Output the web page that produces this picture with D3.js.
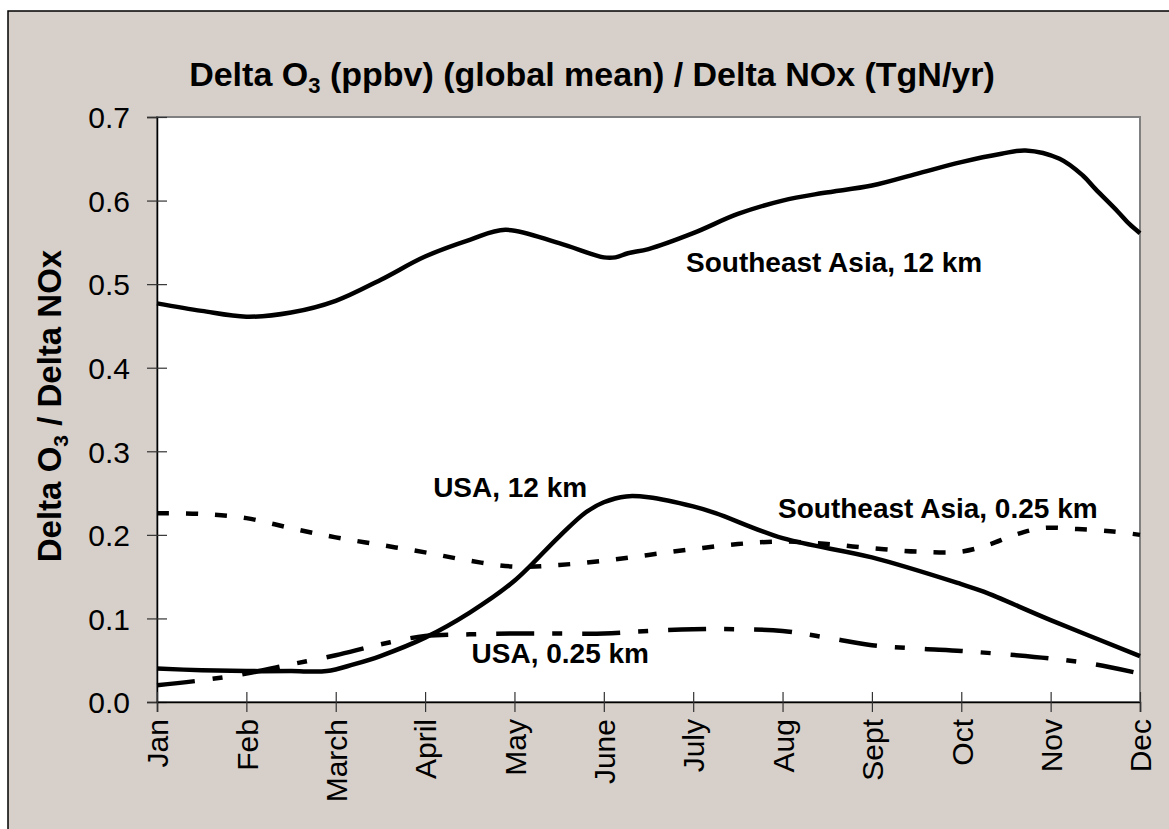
<!DOCTYPE html>
<html>
<head>
<meta charset="utf-8">
<script src="https://cdn.jsdelivr.net/npm/d3@7"></script>
<style>
  body { margin: 0; background: #fff; }
  text { font-family: "Liberation Sans", Arial, sans-serif; fill: #000; }
</style>
</head>
<body>
<div id="chart"></div>
<script>
var width = 1169, height = 829;

// month tick labels (x positions are month index 0..11)
var months = ['Jan', 'Feb', 'March', 'April', 'May', 'June', 'July', 'Aug', 'Sept', 'Oct', 'Nov', 'Dec'];
var yTicks = [0, 0.1, 0.2, 0.3, 0.4, 0.5, 0.6, 0.7];

// [month index, delta O3 / delta NOx]
var seAsia12 = [[0, 0.477], [0.5, 0.468], [1, 0.461], [1.5, 0.466], [2, 0.480], [2.5, 0.505],
  [3, 0.533], [3.5, 0.553], [3.9, 0.565], [4.5, 0.549], [5, 0.532], [5.13, 0.532], [5.27, 0.537],
  [5.5, 0.542], [6, 0.561], [6.5, 0.584], [7, 0.600], [7.45, 0.609], [8, 0.618], [8.5, 0.632],
  [9, 0.646], [9.45, 0.656], [9.72, 0.660], [10.1, 0.650], [10.36, 0.630], [10.5, 0.614],
  [10.75, 0.587], [10.88, 0.572], [11, 0.561]];

var seAsia025 = [[0, 0.226], [0.5, 0.225], [1, 0.220], [1.5, 0.208], [2, 0.197], [2.5, 0.188],
  [3, 0.179], [3.5, 0.169], [4, 0.162], [4.5, 0.164], [5, 0.169], [5.5, 0.176], [6, 0.183],
  [6.5, 0.189], [7, 0.192], [7.5, 0.189], [8, 0.184], [8.5, 0.180], [9, 0.180], [9.3, 0.188],
  [9.6, 0.200], [9.9, 0.208], [10.3, 0.207], [10.7, 0.204], [11, 0.200]];

var usa12 = [[0, 0.040], [0.5, 0.038], [1, 0.037], [1.5, 0.037], [1.9, 0.037], [2.2, 0.045],
  [2.5, 0.055], [3, 0.077], [3.5, 0.107], [4, 0.145], [4.5, 0.198], [4.8, 0.227], [5, 0.239],
  [5.25, 0.246], [5.5, 0.245], [6, 0.234], [6.25, 0.226], [7, 0.196], [8, 0.173], [9, 0.141],
  [9.25, 0.132], [10, 0.098], [11, 0.055]];

var usa025 = [[0, 0.020], [0.5, 0.026], [1, 0.034], [1.5, 0.045], [2, 0.056], [2.5, 0.069],
  [3, 0.079], [3.5, 0.081], [4, 0.082], [4.5, 0.082], [5, 0.082], [5.5, 0.085], [6, 0.087],
  [6.5, 0.087], [7, 0.085], [7.5, 0.077], [8, 0.068], [8.5, 0.064], [9, 0.061], [9.5, 0.057],
  [10, 0.052], [10.5, 0.045], [11, 0.034]];

// series labels, anchored in data units (month, value) at the text baseline start
var labels = [
  ['Southeast Asia, 12 km', 5.92, 0.515],
  ['USA, 12 km', 3.09, 0.245],
  ['Southeast Asia, 0.25 km', 6.95, 0.220],
  ['USA, 0.25 km', 3.52, 0.047]
];

var plotLeft = 157, plotRight = 1140, plotTop = 117, plotBottom = 702;

var svg = d3.select('#chart').append('svg')
  .attr('width', width)
  .attr('height', height);

// outer chart panel
svg.append('rect')
  .attr('x', 8).attr('y', 11)
  .attr('width', width + 20).attr('height', height + 20)
  .attr('fill', '#d7cfc9')
  .attr('stroke', '#000')
  .attr('stroke-width', 1.5);

// plot area
svg.append('rect')
  .attr('x', plotLeft).attr('y', plotTop)
  .attr('width', plotRight - plotLeft).attr('height', plotBottom - plotTop)
  .attr('fill', '#fff')
  .attr('stroke', '#808080')
  .attr('stroke-width', 2);

var x = d3.scaleLinear().domain([0, 11]).range([plotLeft, plotRight]);
var y = d3.scaleLinear().domain([0, 0.7]).range([plotBottom, plotTop]);

var line = d3.line()
  .x(function(d) { return x(d[0]); })
  .y(function(d) { return y(d[1]); })
  .curve(d3.curveCatmullRom.alpha(0.5));

// axes with ticks crossing the axis line
var yAxis = svg.append('g')
  .attr('transform', 'translate(' + plotLeft + ',0)')
  .call(d3.axisLeft(y).tickValues(yTicks).tickFormat(d3.format('.1f')).tickSize(10).tickPadding(17));
yAxis.selectAll('.tick line').attr('x1', 10).attr('stroke', '#333').attr('stroke-width', 1.2);
yAxis.select('.domain').attr('stroke', '#000').attr('stroke-width', 1.5);
yAxis.selectAll('text').style('font-size', '30px').attr('dy', '0.36em');

var xAxis = svg.append('g')
  .attr('transform', 'translate(0,' + plotBottom + ')')
  .call(d3.axisBottom(x).tickValues(d3.range(12)).tickFormat(function(i) { return months[i]; }).tickSize(10));
xAxis.selectAll('.tick line').attr('y1', -10).attr('stroke', '#333').attr('stroke-width', 1.2);
xAxis.select('.domain').attr('stroke', '#000').attr('stroke-width', 1.5);
xAxis.selectAll('text')
  .style('font-size', '30px')
  .attr('text-anchor', 'end')
  .attr('transform', 'rotate(-90)')
  .attr('x', -17)
  .attr('y', 0)
  .attr('dy', '0.36em');

// series
var series = [
  [seAsia12, null],
  [seAsia025, '12,17'],
  [usa12, null],
  [usa025, '38,18,10,20']
];
series.forEach(function(s) {
  svg.append('path')
    .datum(s[0])
    .attr('d', line)
    .attr('fill', 'none')
    .attr('stroke', '#000')
    .attr('stroke-width', 4.5)
    .attr('stroke-dasharray', s[1]);
});

svg.selectAll('.series-label')
  .data(labels)
  .enter().append('text')
  .attr('class', 'series-label')
  .attr('x', function(d) { return x(d[1]); })
  .attr('y', function(d) { return y(d[2]); })
  .style('font-size', '28px')
  .style('font-weight', 'bold')
  .text(function(d) { return d[0]; });

// title
var title = svg.append('text')
  .attr('x', 592).attr('y', 86)
  .attr('text-anchor', 'middle')
  .style('font-size', '34px')
  .style('font-weight', 'bold');
title.append('tspan').text('Delta O');
title.append('tspan').text('3').style('font-size', '22px').attr('dy', 7);
title.append('tspan').text(' (ppbv) (global mean) / Delta NOx (TgN/yr)').attr('dy', -7);

// y axis title
var ytitle = svg.append('text')
  .attr('transform', 'translate(61,406) rotate(-90)')
  .attr('text-anchor', 'middle')
  .style('font-size', '33px')
  .style('font-weight', 'bold');
ytitle.append('tspan').text('Delta O');
ytitle.append('tspan').text('3').style('font-size', '21px').attr('dy', 7);
ytitle.append('tspan').text(' / Delta NOx').attr('dy', -7);
</script>
</body>
</html>
